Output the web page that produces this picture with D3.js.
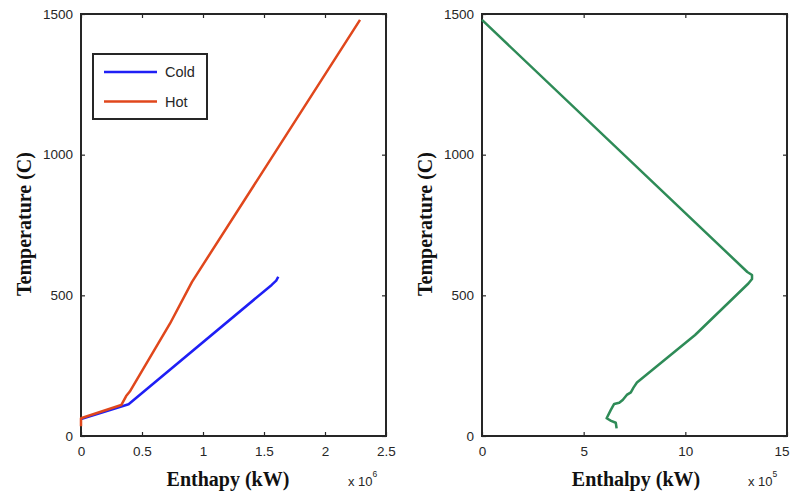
<!DOCTYPE html>
<meta charset="utf-8">

<style>
  body { margin: 0; background: #fff; }
  .tick text { font-family: "Liberation Sans", Arial, sans-serif; font-size: 13.5px; fill: #262626; }
  .tick line { stroke: #262626; stroke-width: 1.2; }
  .axis-title { font-family: "Liberation Serif", "Times New Roman", serif; font-weight: bold; font-size: 20px; fill: #111; }
  .expo { font-family: "Liberation Sans", Arial, sans-serif; fill: #262626; }
</style>

<script src="https://d3js.org/d3.v7.min.js"></script>

<div id="body"></div>

<script>

  // ---- data ----
  // left panel: enthalpy in 1e6 kW, temperature in C
  var coldEnthalpy = [0, 0.39, 1.563, 1.60, 1.617]
  var coldTemp     = [60, 113, 537, 552, 566]
  var hotEnthalpy  = [0, 0, 0.33, 0.37, 0.40, 0.73, 0.91, 2.287]
  var hotTemp      = [35, 63, 110, 142, 158, 400, 548, 1479]

  // right panel: enthalpy in 1e5 kW
  var netEnthalpy = [0, 13.05, 13.28, 13.28, 13.1, 10.48, 7.62, 7.45, 7.32, 7.12, 6.92, 6.75, 6.50, 6.33, 6.13, 6.35, 6.58, 6.62]
  var netTemp     = [1479, 583, 572, 558, 542, 359, 190, 172, 155, 146, 128, 118, 114, 92, 63, 54, 47, 27]

  var leftTicksX  = [0, 0.5, 1, 1.5, 2, 2.5]
  var rightTicksX = [0, 5, 10, 15]
  var ticksY      = [0, 500, 1000, 1500]
  var seriesNames = ["Cold", "Hot"]
  var seriesColors = ["#1f1ff5", "#e0471c"]

  function zip(xs, ys) { return xs.map(function (d, i) { return [d, ys[i]] }) }

  // plain number labels, no thousands separator
  var fmt = function (d) { return String(d) }

  var svg = d3.select("#body")
    .append("svg")
    .attr("width", 790)
    .attr("height", 495)

  var y = d3.scaleLinear().domain([0, 1500]).range([436, 14])

  // draws one framed MATLAB-style panel with ticks on all four sides
  function panel(x, xTicks, ylabelX, xlabel, xlabelX, expX, expo) {
    var g = svg.append("g")
    var x0 = x.range()[0], x1 = x.range()[1]

    var bottom = g.append("g")
      .attr("transform", "translate(0,436)")
      .call(d3.axisBottom(x).tickValues(xTicks).tickFormat(fmt).tickSize(-4).tickPadding(10))
      .call(function (a) { a.select(".domain").remove() })

    // keep a label that would run past the window edge inside it
    bottom.selectAll(".tick text").each(function (d) {
      var t = d3.select(this)
      var over = x(d) + this.getComputedTextLength() / 2 - 789
      if (over > 0) t.attr("x", -over)
    })

    g.append("g")
      .attr("transform", "translate(0,14)")
      .call(d3.axisTop(x).tickValues(xTicks).tickSize(-4).tickFormat(""))
      .call(function (a) { a.select(".domain").remove() })

    g.append("g")
      .attr("transform", "translate(" + x0 + ",0)")
      .call(d3.axisLeft(y).tickValues(ticksY).tickFormat(fmt).tickSize(-4).tickPadding(8))
      .call(function (a) { a.select(".domain").remove() })

    g.append("g")
      .attr("transform", "translate(" + x1 + ",0)")
      .call(d3.axisRight(y).tickValues(ticksY).tickSize(-4).tickFormat(""))
      .call(function (a) { a.select(".domain").remove() })

    g.selectAll(".tick text").attr("fill", null)
    g.selectAll(".tick line").attr("stroke", null)

    // frame
    g.append("rect")
      .attr("x", x0).attr("y", 14)
      .attr("width", x1 - x0).attr("height", 422)
      .attr("fill", "none")
      .attr("stroke", "#262626")
      .attr("stroke-width", 2)

    // y label
    g.append("text")
      .attr("class", "axis-title")
      .attr("transform", "translate(" + ylabelX + ",224) rotate(-90)")
      .attr("text-anchor", "middle")
      .text("Temperature (C)")

    // x label
    g.append("text")
      .attr("class", "axis-title")
      .attr("x", xlabelX).attr("y", 486)
      .attr("text-anchor", "middle")
      .text(xlabel)

    // exponent marker
    var e = g.append("text")
      .attr("class", "expo")
      .attr("x", expX).attr("y", 486)
      .style("font-size", "13px")
    e.append("tspan").text("x 10")
    e.append("tspan").attr("dy", -9).style("font-size", "8.5px").text(expo)

    return g
  }

  var xLeft = d3.scaleLinear().domain([0, 2.5]).range([81, 386])
  var xRight = d3.scaleLinear().domain([0, 15]).range([482, 787])

  var gl = panel(xLeft, leftTicksX, 31, "Enthapy (kW)", 228, 348, "6")
  var gr = panel(xRight, rightTicksX, 432, "Enthalpy (kW)", 636, 748, "5")

  var lineL = d3.line()
    .x(function (d) { return xLeft(d[0]) })
    .y(function (d) { return y(d[1]) })

  var lineR = d3.line()
    .x(function (d) { return xRight(d[0]) })
    .y(function (d) { return y(d[1]) })

  // hot drawn after cold so red sits on top where they overlap
  var leftSeries = [zip(coldEnthalpy, coldTemp), zip(hotEnthalpy, hotTemp)]

  gl.selectAll(".series")
    .data(leftSeries)
    .enter()
    .append("path")
    .attr("class", "series")
    .attr("d", lineL)
    .attr("fill", "none")
    .attr("stroke", function (d, i) { return seriesColors[i] })
    .attr("stroke-width", 2.5)
    .attr("stroke-linejoin", "round")

  gr.append("path")
    .datum(zip(netEnthalpy, netTemp))
    .attr("d", lineR)
    .attr("fill", "none")
    .attr("stroke", "#2e8b57")
    .attr("stroke-width", 2.5)
    .attr("stroke-linejoin", "round")

  // legend
  var leg = gl.append("g")
  leg.append("rect")
    .attr("x", 93).attr("y", 54)
    .attr("width", 114).attr("height", 65)
    .attr("fill", "#fff")
    .attr("stroke", "#262626")
    .attr("stroke-width", 2)

  seriesNames.forEach(function (name, i) {
    var ly = 72 + i * 29.5
    leg.append("line")
      .attr("x1", 104).attr("x2", 157)
      .attr("y1", ly).attr("y2", ly)
      .attr("stroke", seriesColors[i])
      .attr("stroke-width", 2.5)
    leg.append("text")
      .attr("x", 165).attr("y", ly + 5)
      .style("font-family", "Liberation Sans, Arial, sans-serif")
      .style("font-size", "14.5px")
      .attr("fill", "#262626")
      .text(name)
  })

</script>
